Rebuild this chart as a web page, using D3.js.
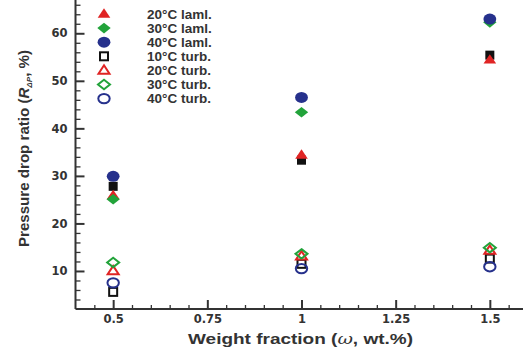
<!DOCTYPE html>
<html>
<head>
<meta charset="utf-8">
<script src="https://cdn.jsdelivr.net/npm/d3@7"></script>
<style>
  html, body { margin: 0; padding: 0; background: #fff; }
  svg { display: block; }
  text { font-family: "DejaVu Sans", "Liberation Sans", Arial, sans-serif; font-weight: bold; fill: #333; }
  text.sans { font-family: "Liberation Sans", Arial, sans-serif; }
</style>
</head>
<body>
<svg id="chart" width="523" height="350"></svg>
<script>
// Weight fractions (wt.%) at which the pressure drop ratio was measured
const weightFractions = [0.5, 1.0, 1.5];

// Laminar flow, pressure drop ratio R_ΔP (%)
const lam10 = [27.8, 33.3, 55.4];
const lam20 = [25.9, 34.4, 54.4];
const lam30 = [25.1, 43.4, 62.3];
const lam40 = [29.9, 46.5, 63.0];

// Turbulent flow, pressure drop ratio R_ΔP (%)
const turb10 = [5.6, 11.5, 12.6];
const turb20 = [10.0, 13.1, 14.3];
const turb30 = [11.8, 13.6, 14.9];
const turb40 = [7.5, 10.5, 10.9];

const xTicks = [0.5, 0.75, 1, 1.25, 1.5];
const xTickLabels = ["0.5", "0.75", "1", "1.25", "1.5"];
const yTicks = [10, 20, 30, 40, 50, 60];

const series = [
  { name: "10°C laml.", values: lam10, shape: "square",   color: "#111111", filled: true,  legend: false },
  { name: "20°C laml.", values: lam20, shape: "triangle", color: "#e02424", filled: true,  legend: true },
  { name: "30°C laml.", values: lam30, shape: "diamond",  color: "#22a33a", filled: true,  legend: true },
  { name: "40°C laml.", values: lam40, shape: "circle",   color: "#26318c", filled: true,  legend: true },
  { name: "10°C turb.", values: turb10, shape: "square",   color: "#111111", filled: false, legend: true },
  { name: "20°C turb.", values: turb20, shape: "triangle", color: "#e02424", filled: false, legend: true },
  { name: "30°C turb.", values: turb30, shape: "diamond",  color: "#22a33a", filled: false, legend: true },
  { name: "40°C turb.", values: turb40, shape: "circle",   color: "#26318c", filled: false, legend: true }
];

const svg = d3.select("#chart");
const x = d3.scaleLinear().domain([0.4, 1.6]).range([75.5, 527.5]);
const y = d3.scaleLinear().domain([2, 67]).range([309, 0]);

const axisColor = "#333";

// Axis lines
svg.append("line").attr("x1", x(0.4)).attr("x2", x(1.6)).attr("y1", y(2)).attr("y2", y(2))
  .attr("stroke", axisColor).attr("stroke-width", 2);
svg.append("line").attr("x1", x(0.4)).attr("x2", x(0.4)).attr("y1", y(2)).attr("y2", y(67))
  .attr("stroke", axisColor).attr("stroke-width", 2);

// Ticks point inward; minor ticks every 0.05 on x, every 2 on y
const xMinor = d3.range(0.45, 1.6, 0.05).filter(v => !xTicks.some(t => Math.abs(t - v) < 1e-6));
const yMinor = d3.range(4, 67, 2).filter(v => v % 10 !== 0);

const xAxis = d3.axisBottom(x).tickValues(xTicks).tickSize(-9).tickPadding(6)
  .tickFormat((d, i) => xTickLabels[i]);
const gx = svg.append("g").attr("transform", `translate(0,${y(2)})`).call(xAxis);
gx.select(".domain").remove();
gx.selectAll(".tick line").attr("stroke", axisColor).attr("stroke-width", 2);
gx.selectAll(".tick text").attr("font-size", 11.5).attr("fill", "#444");

const xAxisMinor = d3.axisBottom(x).tickValues(xMinor).tickSize(-4).tickFormat("");
const gxm = svg.append("g").attr("transform", `translate(0,${y(2)})`).call(xAxisMinor);
gxm.select(".domain").remove();
gxm.selectAll(".tick line").attr("stroke", axisColor).attr("stroke-width", 1.3);

const yAxis = d3.axisLeft(y).tickValues(yTicks).tickSize(-9).tickPadding(8);
const gy = svg.append("g").attr("transform", `translate(${x(0.4)},0)`).call(yAxis);
gy.select(".domain").remove();
gy.selectAll(".tick line").attr("stroke", axisColor).attr("stroke-width", 2);
gy.selectAll(".tick text").attr("font-size", 11.5).attr("fill", "#444");

const yAxisMinor = d3.axisLeft(y).tickValues(yMinor).tickSize(-5).tickFormat("");
const gym = svg.append("g").attr("transform", `translate(${x(0.4)},0)`).call(yAxisMinor);
gym.select(".domain").remove();
gym.selectAll(".tick line").attr("stroke", axisColor).attr("stroke-width", 1.3);

// Marker shapes: slightly wide ellipses, squat triangles and diamonds
function drawMarker(g, s) {
  let p;
  if (s.shape === "circle") {
    p = g.append("ellipse").attr("rx", s.filled ? 6.4 : 5.7).attr("ry", s.filled ? 5.5 : 4.7);
  } else if (s.shape === "square") {
    const h = s.filled ? 4.5 : 4.0;
    p = g.append("rect").attr("x", -h).attr("y", -h).attr("width", 2 * h).attr("height", 2 * h);
  } else if (s.shape === "triangle") {
    const w = s.filled ? 6.3 : 5.5, t = s.filled ? 5.7 : 5.1, b = s.filled ? 3.7 : 3.3;
    p = g.append("path").attr("d", `M0,${-t}L${w},${b}L${-w},${b}Z`);
  } else {
    const w = s.filled ? 6.7 : 6.0, h = s.filled ? 5.3 : 4.7;
    p = g.append("path").attr("d", `M0,${-h}L${w},0L0,${h}L${-w},0Z`);
  }
  if (s.filled) p.attr("fill", s.color).attr("stroke", "none");
  else p.attr("fill", "none").attr("stroke", s.color).attr("stroke-width", 2);
  return p;
}

// Data points
series.forEach(s => {
  s.values.forEach((v, i) => {
    const g = svg.append("g").attr("transform", `translate(${x(weightFractions[i])},${y(v)})`);
    drawMarker(g, s);
  });
});

// Legend
const legendItems = series.filter(s => s.legend);
const legend = svg.append("g").attr("transform", "translate(104,14)");
legendItems.forEach((s, i) => {
  const row = legend.append("g").attr("transform", `translate(0,${i * 14.1})`);
  drawMarker(row, s);
  row.append("text").attr("class", "sans").attr("x", 43).attr("y", 4.8)
    .attr("font-size", 13.5).text(s.name);
});

// Axis titles
const xt = svg.append("text").attr("class", "sans").attr("x", 300.5).attr("y", 344)
  .attr("text-anchor", "middle").attr("font-size", 15)
  .attr("textLength", 225).attr("lengthAdjust", "spacingAndGlyphs");
xt.append("tspan").text("Weight fraction (");
xt.append("tspan").attr("font-style", "italic").attr("font-family", "DejaVu Serif, serif").attr("font-weight", "normal").text("ω");
xt.append("tspan").text(", wt.%)");

const yt = svg.append("text").attr("class", "sans").attr("transform", "translate(29,148.5) rotate(-90)")
  .attr("text-anchor", "middle").attr("font-size", 15)
  .attr("textLength", 197).attr("lengthAdjust", "spacingAndGlyphs");
yt.append("tspan").text("Pressure drop ratio (");
yt.append("tspan").attr("font-style", "italic").text("R");
yt.append("tspan").attr("font-size", 8).attr("dy", 3).attr("font-style", "italic").text("ΔP");
yt.append("tspan").attr("dy", -3).text(", %)");
</script>
</body>
</html>
